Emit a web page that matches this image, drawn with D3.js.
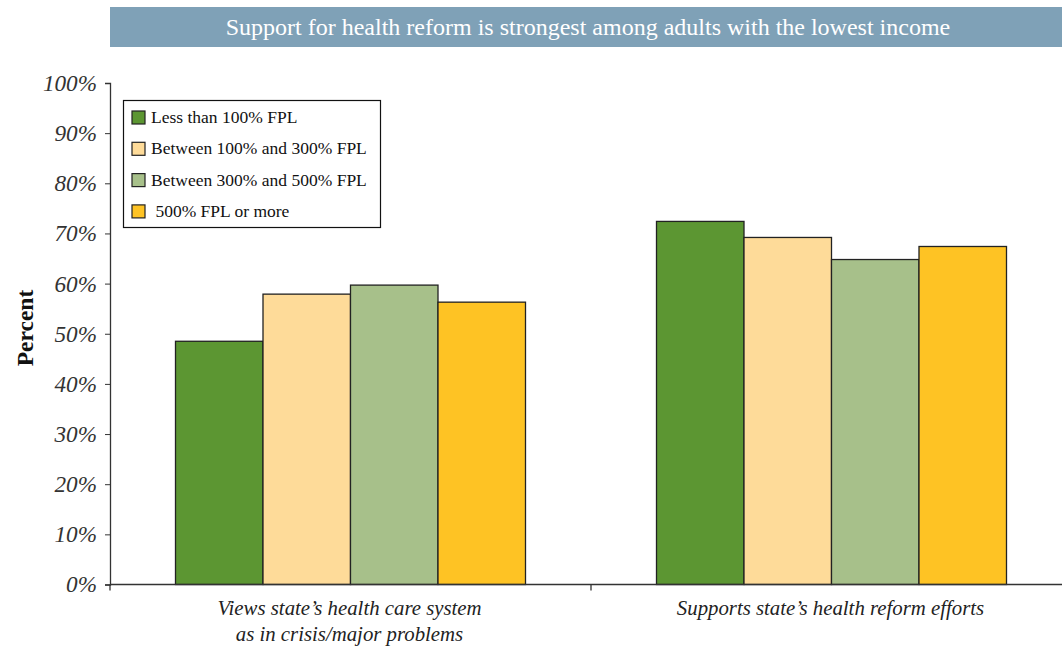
<!DOCTYPE html>
<html><head><meta charset="utf-8">
<script src="https://cdn.jsdelivr.net/npm/d3@7"></script>
<style>body{margin:0;background:#fff}svg{display:block}</style>
</head><body><svg id="c" width="1062" height="649"></svg>
<script>
const categories = ["Views state\u2019s health care system|as in crisis/major problems", "Supports state\u2019s health reform efforts"];
const seriesNames = ["Less than 100% FPL", "Between 100% and 300% FPL", "Between 300% and 500% FPL", " 500% FPL or more"];
const lt100 = [48.5, 72.4];
const b100_300 = [57.9, 69.2];
const b300_500 = [59.7, 64.8];
const ge500 = [56.3, 67.4];
const yTicks = [0, 10, 20, 30, 40, 50, 60, 70, 80, 90, 100];
const colors = ["#5c9632", "#fedb99", "#a7c08a", "#fec324"];
const title = "Support for health reform is strongest among adults with the lowest income";

const series = [lt100, b100_300, b300_500, ge500];
const svg = d3.select("#c");
const FF = "'Liberation Serif'";

// title band
svg.append("rect").attr("x",110).attr("y",7).attr("width",952).attr("height",40).attr("fill","#7fa1b7");
svg.append("text").attr("x",588).attr("y",35).attr("text-anchor","middle").attr("fill","#fff")
  .style("font-family",FF).style("font-size","24px").text(title);

const x0 = d3.scaleBand().domain(categories).range([110,1072]).paddingInner(0).paddingOuter(0);
const x1 = d3.scaleBand().domain(d3.range(4)).range([0, 350]);
const y = d3.scaleLinear().domain([0,100]).range([584.5,83]);

// bars
categories.forEach((c,ci)=>{
  const gx = x0(c) + (x0.bandwidth()-350)/2;
  series.forEach((s,si)=>{
    svg.append("rect").attr("x",gx + x1(si)).attr("y",y(s[ci]))
      .attr("width",x1.bandwidth()).attr("height",y(0)-y(s[ci]))
      .attr("fill",colors[si]).attr("stroke","#222").attr("stroke-width",1.3);
  });
});

// y axis
const ya = svg.append("g").attr("transform","translate(110,0)")
  .call(d3.axisLeft(y).tickValues(yTicks).tickSize(5).tickPadding(8).tickFormat(d=>d+"%"));
ya.attr("font-family",null);
ya.select(".domain").attr("stroke","#333").attr("stroke-width",1.3);
ya.selectAll(".tick line").attr("stroke","#333");
ya.selectAll("text").style("font-family",FF).style("font-style","italic").style("font-size","23.2px").attr("fill","#333");

// x axis
svg.append("line").attr("x1",110).attr("x2",1062).attr("y1",y(0)).attr("y2",y(0)).attr("stroke","#333").attr("stroke-width",1.5);
[110, x0(categories[1])].forEach(t=>{
  svg.append("line").attr("x1",t).attr("x2",t).attr("y1",y(0)).attr("y2",y(0)+6).attr("stroke","#333").attr("stroke-width",1.3);
});
categories.forEach(c=>{
  const lines = c.split("|");
  const t = svg.append("text").attr("text-anchor","middle").attr("fill","#222")
    .style("font-family",FF).style("font-style","italic").style("font-size","20.8px");
  lines.forEach((l,i)=>{
    t.append("tspan").attr("x",x0(c)+x0.bandwidth()/2 - 1).attr("y",615 + i*26).text(l);
  });
});

// y label
svg.append("text").attr("transform","translate(33,328) rotate(-90)").attr("text-anchor","middle")
  .style("font-family",FF).style("font-weight","bold").style("font-size","23.5px").attr("fill","#111").text("Percent");

// legend
const lg = svg.append("g");
lg.append("rect").attr("x",123.5).attr("y",100.5).attr("width",257).attr("height",127).attr("fill","#fff").attr("stroke","#111").attr("stroke-width",1.2);
seriesNames.forEach((n,i)=>{
  const cy = 117.5 + i*31.3;
  lg.append("rect").attr("x",132).attr("y",cy-6.5).attr("width",13).attr("height",13).attr("fill",colors[i]).attr("stroke","#222").attr("stroke-width",1.2);
  lg.append("text").attr("x",151).attr("y",cy+5.5).attr("fill","#111")
    .style("white-space","pre").style("font-family",FF).style("font-size","17.5px").text(n);
});
</script></body></html>
